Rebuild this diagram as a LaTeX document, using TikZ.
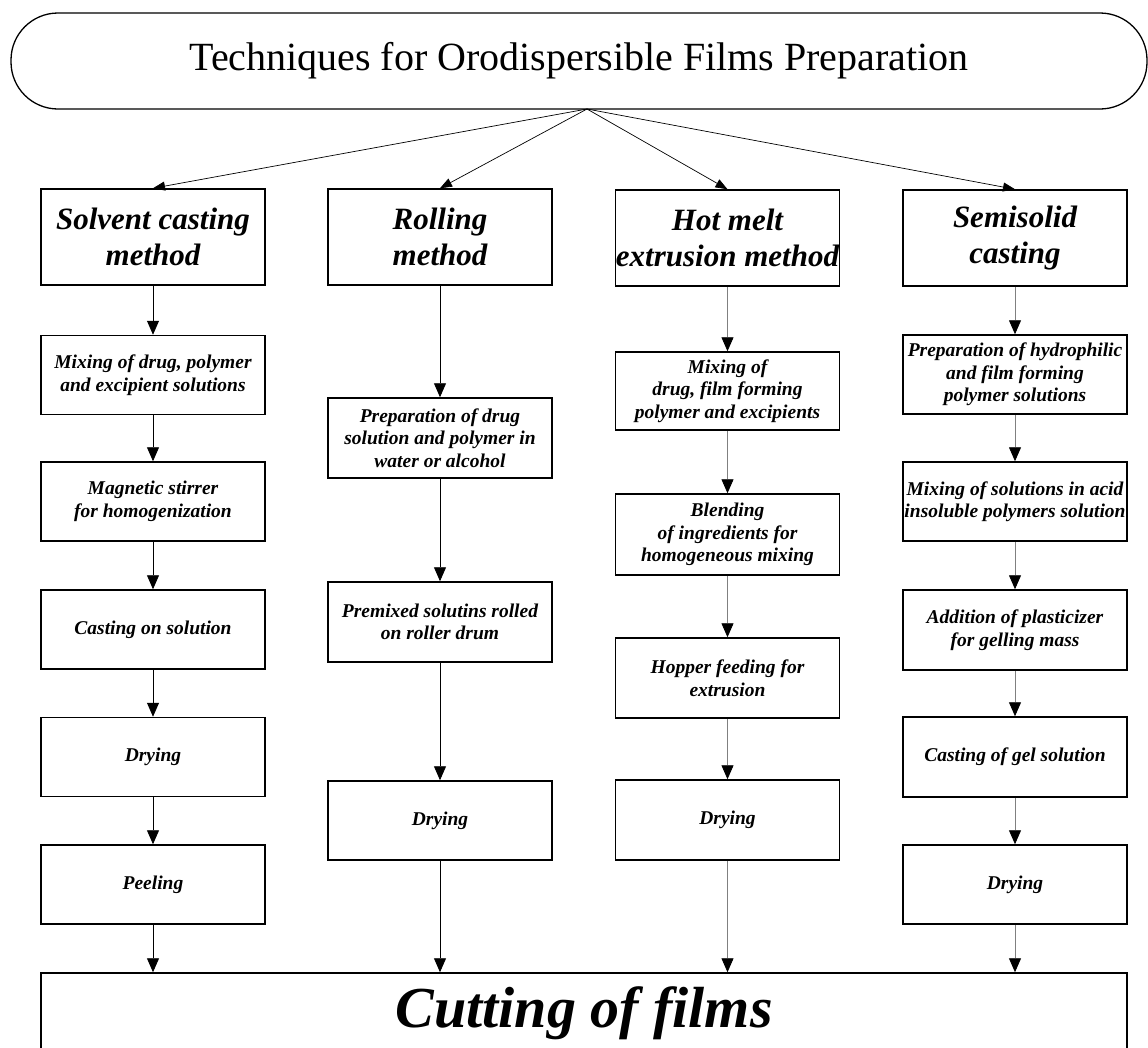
\documentclass[tikz,border=0pt]{standalone}
\usepackage{fontspec}
\setmainfont{Liberation Serif}
\usetikzlibrary{arrows.meta}
\tikzset{
  method/.style={draw,line width=1.5pt,minimum width=224pt,minimum height=96pt,align=center,inner sep=0pt,font=\bfseries\itshape\fontsize{31}{36}\selectfont},
  stepbox/.style={draw,line width=1.5pt,minimum width=224pt,minimum height=79pt,align=center,inner sep=0pt,font=\bfseries\itshape\fontsize{19.5}{22.5}\selectfont},
  link/.style={-{Triangle[length=14pt,width=12pt,color=black]},line width=0.9pt},
  glink/.style={link,draw=black!50},
  fan/.style={-{Triangle[length=12pt,width=9pt]},line width=0.7pt}
}
\begin{document}
\begin{tikzpicture}[x=1pt,y=-1pt]
\useasboundingbox (0,0) rectangle (1148,1047);
\fill[white] (0,0) rectangle (1148,1047);
\node (title) [draw,line width=1.3pt,rounded corners=47pt,minimum width=1136pt,minimum height=96pt,font=\fontsize{40}{46}\selectfont] at (579,61) {Techniques for Orodispersible Films Preparation};
\coordinate (apex) at (587,109);
% methods
\node (sc) [method] at (153,237) {Solvent casting\\method};
\node (rm) [method] at (440,237) {Rolling\\method};
\node (hm) [method] at (727.5,238) {Hot melt\\extrusion method};
\node (ss) [method] at (1015,238) {Semisolid\\casting};
% solvent casting
\node (sc1) [stepbox] at (153,375) {Mixing of drug, polymer\\and excipient solutions};
\node (sc2) [stepbox] at (153,501.5) {Magnetic stirrer\\for homogenization};
\node (sc3) [stepbox] at (153,629.5) {Casting on solution};
\node (sc4) [stepbox] at (153,757) {Drying};
\node (sc5) [stepbox] at (153,884.5) {Peeling};
% rolling
\node (rm1) [stepbox,minimum height=80pt] at (440,438) {Preparation of drug\\solution and polymer in\\water or alcohol};
\node (rm2) [stepbox,minimum height=80pt] at (440,622) {Premixed solutins rolled\\on roller drum};
\node (rm3) [stepbox] at (440,820.5) {Drying};
% hot melt extrusion
\node (hm1) [stepbox,minimum height=78pt] at (727.5,391) {Mixing of\\drug, film forming\\polymer and excipients};
\node (hm2) [stepbox,minimum height=81pt] at (727.5,534.5) {Blending\\of ingredients for\\homogeneous mixing};
\node (hm3) [stepbox,minimum height=80pt] at (727.5,678) {Hopper feeding for\\extrusion};
\node (hm4) [stepbox,minimum height=80pt] at (727.5,820) {Drying};
% semisolid casting
\node (ss1) [stepbox] at (1015,374.5) {Preparation of hydrophilic\\and film forming\\polymer solutions};
\node (ss2) [stepbox] at (1015,501.5) {Mixing of solutions in acid\\insoluble polymers solution};
\node (ss3) [stepbox,minimum height=80pt] at (1015,630) {Addition of plasticizer\\for gelling mass};
\node (ss4) [stepbox,minimum height=80pt] at (1015,757) {Casting of gel solution};
\node (ss5) [stepbox] at (1015,884.5) {Drying};
% final step
\node (cut) [draw,line width=1.5pt,minimum width=1086pt,minimum height=80pt,font=\bfseries\itshape\fontsize{58}{64}\selectfont] at (584,1013) {Cutting of films};
\draw[fan] (apex) -- (sc.north);
\draw[fan] (apex) -- (rm.north);
\draw[fan] (apex) -- (hm.north);
\draw[fan] (apex) -- (ss.north);
\foreach \a/\b in {sc/sc1,sc1/sc2,sc2/sc3,sc3/sc4,sc4/sc5,rm/rm1,rm1/rm2,rm2/rm3}
  \draw[link] (\a) -- (\b);
\foreach \a/\b in {hm/hm1,hm1/hm2,hm2/hm3,hm3/hm4,ss/ss1,ss1/ss2,ss2/ss3,ss3/ss4,ss4/ss5}
  \draw[glink] (\a) -- (\b);
\draw[link] (sc5) -- (sc5 |- cut.north);
\draw[link] (rm3) -- (rm3 |- cut.north);
\draw[glink] (hm4) -- (hm4 |- cut.north);
\draw[glink] (ss5) -- (ss5 |- cut.north);
\end{tikzpicture}
\end{document}
